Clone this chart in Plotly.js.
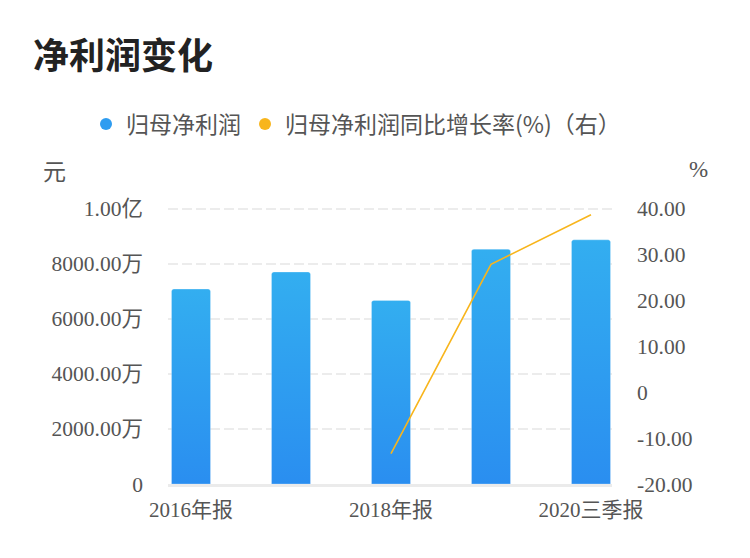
<!DOCTYPE html>
<html>
<head>
<meta charset="utf-8">
<script src="https://cdn.plot.ly/plotly-3.0.1.min.js"></script>
<style>html,body{margin:0;padding:0;background:#fff;}#chart{width:750px;height:558px;}</style>
</head>
<body>
<div id="chart"></div>
<script>
const categories = ["2016年报", "2017年报", "2018年报", "2019年报", "2020三季报"];
const netProfit = [70800000, 77000000, 66700000, 85300000, 88700000];
const growthRate = [null, null, -13.4, 27.9, 38.7];
const leftTickVals = [0, 20000000, 40000000, 60000000, 80000000, 100000000];
const leftTickText = ["0", "2000.00万", "4000.00万", "6000.00万", "8000.00万", "1.00亿"];
const rightTickVals = [-20, -10, 0, 10, 20, 30, 40];
const rightTickText = ["-20.00", "-10.00", "0", "10.00", "20.00", "30.00", "40.00"];
const xTickIdx = [0, 2, 4];

const BLUE = "#2e9cf0";
const YELLOW = "#f8b51c";
const FONT = "Liberation Serif, Noto Sans CJK SC, serif";
const SANS = "Noto Sans CJK SC, sans-serif";
const xIdx = categories.map((c, i) => i);

const traces = [
  {
    type: "bar", x: xIdx, y: netProfit, name: "归母净利润", showlegend: false,
    marker: { color: BLUE, cornerradius: 3, line: { color: "rgba(255,255,255,0.25)", width: 1 } },
    width: 0.39, yaxis: "y"
  },
  {
    type: "scatter", mode: "lines", x: xIdx, y: growthRate, name: "归母净利润同比增长率(%)（右）",
    showlegend: false, line: { color: YELLOW, width: 1.6 }, yaxis: "y2", connectgaps: false
  },
  { type: "scatter", mode: "markers", x: [null], y: [null], name: "归母净利润", legend: "legend",
    marker: { color: BLUE, size: 12, symbol: "circle" } },
  { type: "scatter", mode: "markers", x: [null], y: [null], name: "归母净利润同比增长率(%)（右）", legend: "legend2",
    marker: { color: YELLOW, size: 12, symbol: "circle" } }
];

const PAD = 1.01;               // headroom so the top grid line is drawn
const BOT = 484;
const ph = 275 * PAD;
const TOP = BOT - ph;
const legendBase = {
  orientation: "h", yanchor: "middle", xanchor: "left", xref: "container", yref: "container",
  y: 1 - 124 / 558, font: { family: SANS, size: 23, color: "#555" }, itemwidth: 30,
  bgcolor: "rgba(0,0,0,0)"
};
const layout = {
  width: 750, height: 558,
  margin: { l: 168, r: 138, t: TOP, b: 558 - BOT },
  paper_bgcolor: "#fff", plot_bgcolor: "#fff",
  font: { family: FONT, color: "#555", size: 20 },
  title: {
    text: "净利润变化", xref: "container", yref: "container",
    x: 33 / 750, xanchor: "left", y: 1 - 56 / 558, yanchor: "middle",
    font: { family: SANS, size: 36, color: "#222", weight: "bold" }
  },
  xaxis: {
    range: [-0.23, 4.21], tickvals: xTickIdx, ticktext: xTickIdx.map(i => categories[i]),
    showgrid: false, zeroline: false, showline: true, linecolor: "#ebebeb", linewidth: 2.5,
    ticks: "", tickfont: { size: 21, color: "#555" }, ticklabelstandoff: 5
  },
  yaxis: {
    range: [0, 100000000 * PAD], tickvals: leftTickVals, ticktext: leftTickText,
    showgrid: true, gridcolor: "#ececec", griddash: "10px,4px", gridwidth: 2, zeroline: false,
    showline: false, ticks: "", tickfont: { size: 21.5, color: "#555" }, ticklabelstandoff: 24
  },
  yaxis2: {
    overlaying: "y", side: "right", range: [-20, -20 + 60 * PAD], tickvals: rightTickVals, ticktext: rightTickText,
    showgrid: false, zeroline: false, showline: false, ticks: "",
    tickfont: { size: 21.5, color: "#555" }, ticklabelstandoff: 24
  },
  legend: Object.assign({}, legendBase, { x: 86 / 750 }),
  legend2: Object.assign({}, legendBase, { x: 245 / 750 }),
  annotations: [
    { text: "元", xref: "paper", yref: "paper", x: 0, y: (BOT - 170) / ph, xshift: -114,
      xanchor: "center", yanchor: "middle", showarrow: false, font: { size: 23, color: "#555", family: SANS } },
    { text: "%", xref: "paper", yref: "paper", x: 1, y: (BOT - 170) / ph, xshift: 86,
      xanchor: "center", yanchor: "middle", showarrow: false, font: { size: 23, color: "#555", family: FONT } }
  ],
  bargap: 0
};

Plotly.newPlot("chart", traces, layout, { displayModeBar: false, staticPlot: true }).then(gd => {
  const svg = gd.querySelector("svg.main-svg");
  const ns = "http://www.w3.org/2000/svg";
  const defs = svg.querySelector("defs");
  const grad = document.createElementNS(ns, "linearGradient");
  grad.setAttribute("id", "barGrad");
  grad.setAttribute("x1", "0"); grad.setAttribute("y1", "0");
  grad.setAttribute("x2", "0"); grad.setAttribute("y2", "1");
  [["0", "#33aef0"], ["1", "#2a8ef0"]].forEach(([o, c]) => {
    const s = document.createElementNS(ns, "stop");
    s.setAttribute("offset", o); s.setAttribute("stop-color", c);
    grad.appendChild(s);
  });
  defs.appendChild(grad);
  gd.querySelectorAll(".barlayer .point path").forEach(p => { p.style.fill = "url(#barGrad)"; });
});
</script>
</body>
</html>
